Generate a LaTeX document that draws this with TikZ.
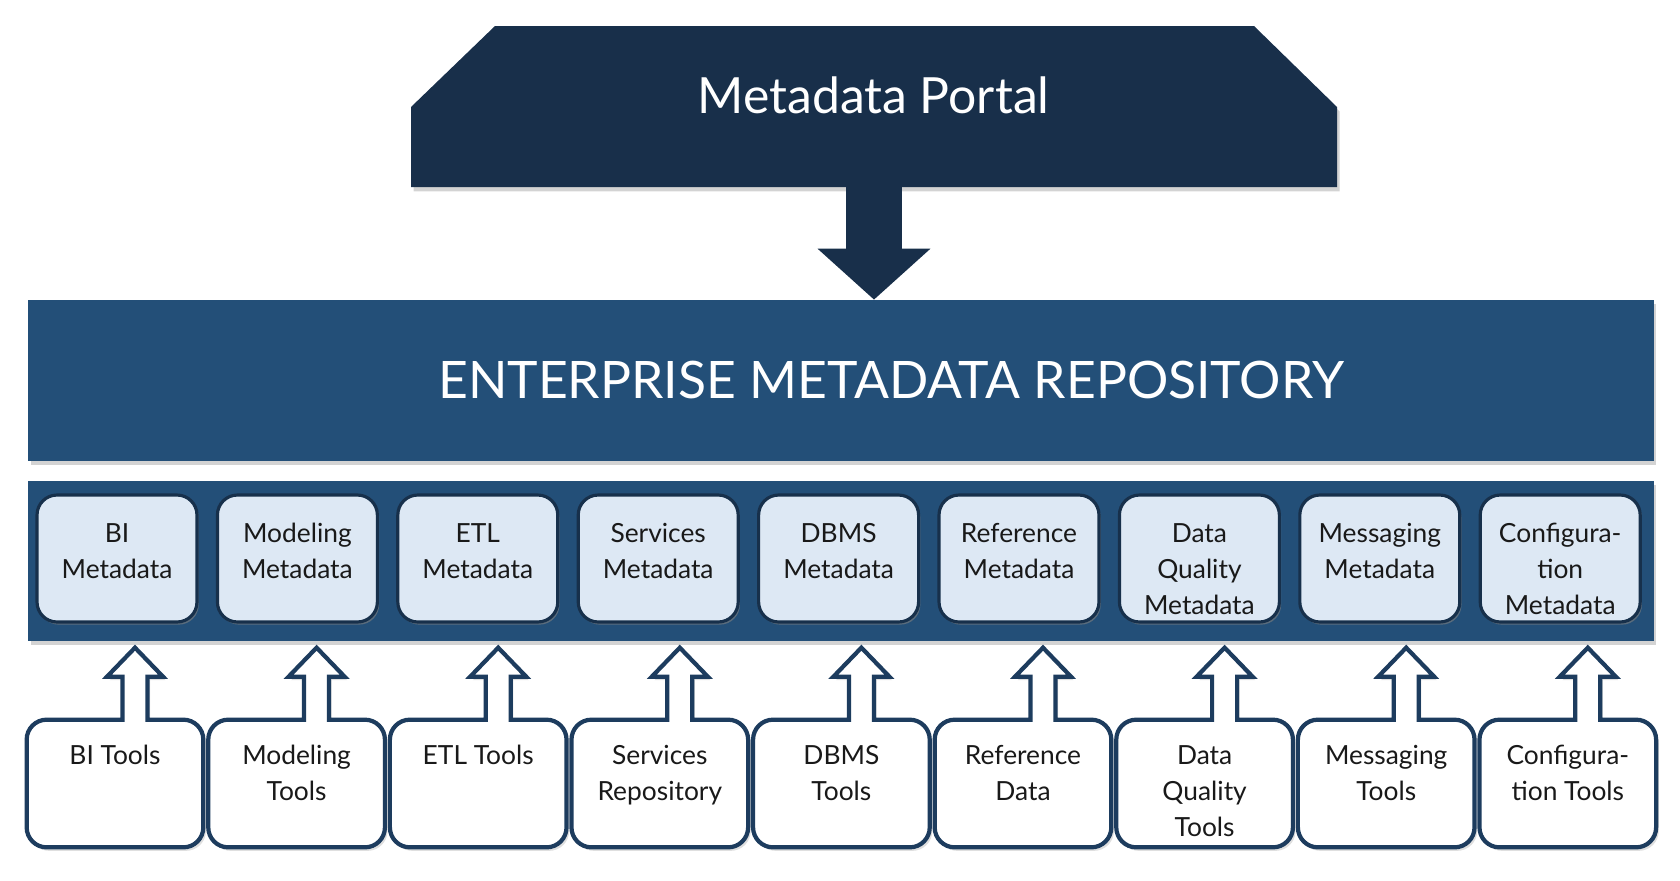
\documentclass[tikz,border=0pt]{standalone}
\usepackage{fontspec}
\setmainfont{Lato}
\usetikzlibrary{calc,shadows,arrows.meta}

\definecolor{portalblue}{HTML}{182F4A}
\definecolor{repoblue}{HTML}{234F78}
\definecolor{mdfill}{HTML}{DDE8F4}
\definecolor{mdedge}{HTML}{17304B}
\definecolor{tooledge}{HTML}{1D3C5E}

\tikzset{
	bigshadow/.style={drop shadow={opacity=0.35, shadow xshift=1.5pt, shadow yshift=-2.5pt}},
	repobar/.style={rectangle, fill=repoblue, minimum width=32.52cm, minimum height=3.22cm, inner sep=0pt, bigshadow},
	mdbox/.style={rectangle, rounded corners=0.4cm, fill=mdfill, draw=mdedge, line width=1.8pt, minimum width=3.2cm, minimum height=2.54cm, inner sep=0pt, drop shadow={opacity=0.6, shadow xshift=1pt, shadow yshift=-1.5pt}},
	toolbox/.style={rectangle, minimum width=3.52cm, minimum height=2.54cm, inner sep=0pt},
	toolline/.style={draw=tooledge, line width=2.4pt, fill=white, drop shadow={opacity=0.25, shadow xshift=1.5pt, shadow yshift=-2pt}},
	boxlabel/.style={align=center, anchor=north, inner sep=0pt, text=black!90, font=\fontsize{15}{20.5}\selectfont},
	bigtitle/.style={anchor=base, text=white, font=\fontsize{28.4}{34}\selectfont},
}

\begin{document}
\begin{tikzpicture}[x=0.02cm, y=-0.02cm]
		%%%%% START %%%%%
		\useasboundingbox (0,0) rectangle (1680,880);
		
		\fill[portalblue, bigshadow] (411,187) -- (411,107) -- (495,26) -- (1254,26) -- (1337,107) -- (1337,187) -- cycle;
		\coordinate (portalfoot) at (874,187);
		\node[bigtitle] (portaltext) at (873.5,113) {Metadata Portal};
		
		\node[repobar] (repo) at (841,380.5) {};
		\node[bigtitle, font=\fontsize{29.4}{35}\selectfont] (repotext) at (891,398) {ENTERPRISE METADATA REPOSITORY};
		\draw[portalblue, line width=1.12cm, -{Triangle[width=2.2cm, length=1.02cm]}] (portalfoot) -- (portalfoot |- repo.north);
		
		\node[repobar, minimum height=3.2cm] (band) at (841,561) {};
		
		\foreach \i/\mdtext/\tooltext in {0/{BI\\Metadata}/{BI Tools}, 1/{Modeling\\Metadata}/{Modeling\\Tools}, 2/{ETL\\Metadata}/{ETL Tools}, 3/{Services\\Metadata}/{Services\\Repository}, 4/{DBMS\\Metadata}/{DBMS\\Tools}, 5/{Reference\\Metadata}/{Reference\\Data}, 6/{Data\\Quality\\Metadata}/{Data\\Quality\\Tools}, 7/{Messaging\\Metadata}/{Messaging\\Tools}, 8/{Configura-\\tion\\Metadata}/{Configura-\\tion Tools}}{
			\pgfmathsetmacro{\mx}{117+180.4*\i}
			\pgfmathsetmacro{\tx}{115+181.6*\i}
			\node[mdbox] (md\i) at (\mx,558.5) {};
			\node[boxlabel] (mdt\i) at ($(md\i.north)+(0,23)$) {\strut\mdtext};
			\node[toolbox] (tl\i) at (\tx,783.5) {};
			\draw[toolline] ($(tl\i.north)+(7.5,0)$) -- ++(0,-43) -- ++(-15.5,0) -- ++(28,-29) -- ++(28,29) -- ++(-15.5,0) -- ++(0,43) {[rounded corners=0.4cm] -- (tl\i.north east) -- (tl\i.south east) -- (tl\i.south west) -- (tl\i.north west)} -- cycle;
			\node[boxlabel] (tlt\i) at ($(tl\i.north)+(0,19)$) {\strut\tooltext};
		}
		
		%%%%% END %%%%%
\end{tikzpicture}
\end{document}
